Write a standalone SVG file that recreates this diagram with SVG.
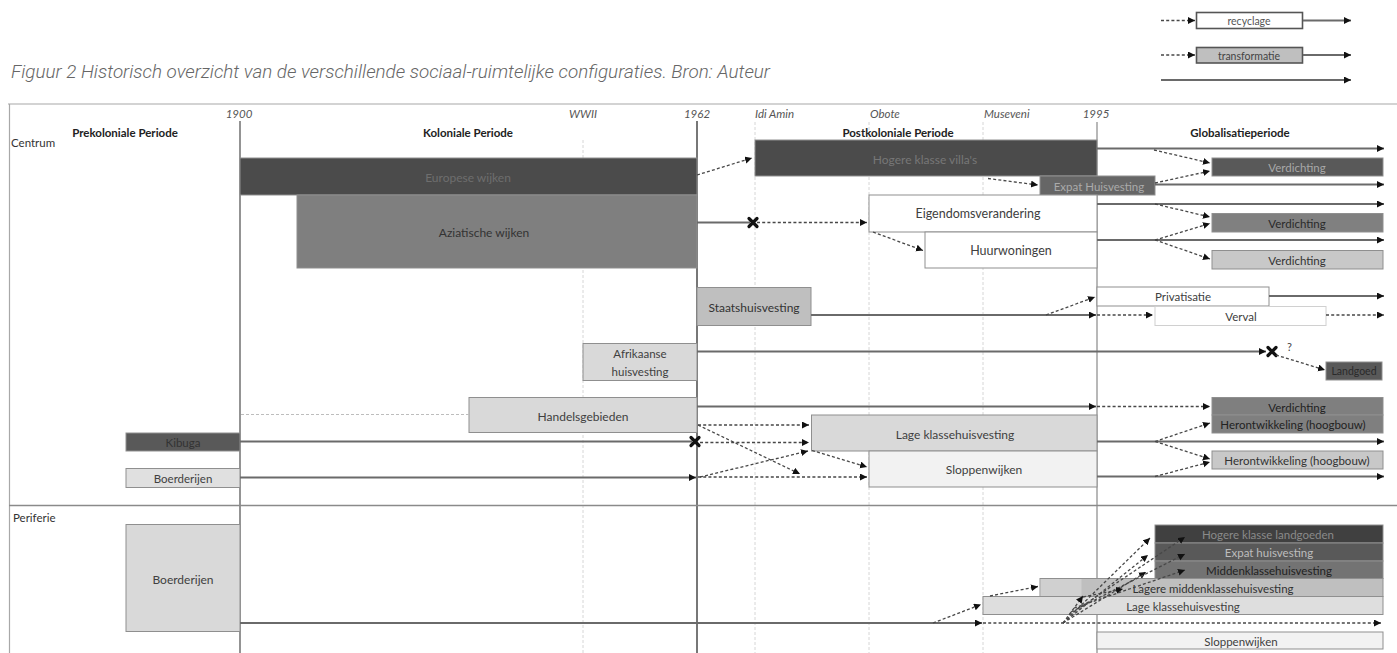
<svg xmlns="http://www.w3.org/2000/svg" width="1397" height="653" viewBox="0 0 1397 653">
<style>
  text { font-family: Lato, "Open Sans", "Liberation Sans", sans-serif; fill: #404040; }
  .lbl { font-size: 12px; text-anchor: middle; dominant-baseline: central; }
  .sm { font-size: 11.5px; text-anchor: middle; dominant-baseline: central; }
  .yr { font-size: 11.5px; font-style: italic; fill: #555; }
  .per { font-size: 11.5px; font-weight: bold; fill: #222; text-anchor: middle; }
  .zone { font-size: 11.5px; fill: #333; }
  .box { stroke: #8f8f8f; stroke-width: 1; }
  .frame { stroke: #a8a8a8; stroke-width: 1.2; fill: none; }
  .era { stroke: #666; stroke-width: 1.4; }
  .faint { stroke: #d6d6d6; stroke-width: 1; stroke-dasharray: 3 2; }
  .s { stroke: #6a6a6a; stroke-width: 1.8; fill: none; }
  .d { stroke: #474747; stroke-width: 1.3; stroke-dasharray: 3 2.2; fill: none; }
  .lt { stroke: #bdbdbd; stroke-width: 1; stroke-dasharray: 3 2; fill: none; }
  .a { marker-end: url(#arr); }
</style>
<defs>
  <marker id="arr" markerUnits="userSpaceOnUse" markerWidth="8" markerHeight="8" refX="7" refY="3.5" orient="auto">
    <path d="M0,0 L7,3.5 L0,7 z" fill="#111"/>
  </marker>
  <g id="xm"><path d="M-4,-4 L4,4 M4,-4 L-4,4" stroke="#111" stroke-width="3.2" stroke-linecap="round"/></g>
</defs>
<rect width="1397" height="653" fill="#fff"/>

<g id="legend">
  <line class="d a" x1="1161" y1="20.5" x2="1195" y2="20.5"/>
  <rect x="1196.5" y="12.5" width="106" height="16" fill="#fff" stroke="#555" stroke-width="1.6"/>
  <text x="1249" y="21" style="font-size:10.5px;text-anchor:middle;dominant-baseline:central;fill:#555">recyclage</text>
  <line class="s a" x1="1303" y1="20.5" x2="1351" y2="20.5"/>
  <line class="d a" x1="1161" y1="55" x2="1195" y2="55"/>
  <rect x="1196.5" y="47.5" width="106" height="15.5" fill="#bfbfbf" stroke="#555" stroke-width="1.6"/>
  <text x="1249" y="55.5" style="font-size:10.5px;text-anchor:middle;dominant-baseline:central;fill:#444">transformatie</text>
  <line class="s a" x1="1303" y1="55" x2="1351" y2="55"/>
  <line class="s a" x1="1161" y1="80" x2="1351" y2="80"/>
</g>

<text id="caption" x="11" y="78" style="font-family:Roboto,'Open Sans',sans-serif;font-style:italic;font-weight:300;font-size:17.5px;fill:#666" textLength="759" lengthAdjust="spacingAndGlyphs">Figuur 2 Historisch overzicht van de verschillende sociaal-ruimtelijke configuraties. Bron: Auteur</text>

<g id="grid">
  <line class="frame" x1="8" y1="104" x2="1397" y2="104"/>
  <line class="frame" x1="9.5" y1="104" x2="9.5" y2="653"/>
  <line class="faint" x1="583" y1="140" x2="583" y2="653"/>
  <line class="faint" x1="755" y1="122" x2="755" y2="653"/>
  <line class="faint" x1="869" y1="122" x2="869" y2="653"/>
  <line class="faint" x1="983" y1="122" x2="983" y2="653"/>
  <line class="era" x1="240" y1="121" x2="240" y2="653"/>
  <line class="era" x1="697" y1="121" x2="697" y2="653" style="stroke:#555;stroke-width:1.6"/>
  <line class="era" x1="1097" y1="122" x2="1097" y2="653" style="stroke:#9a9a9a"/>
  <line x1="9" y1="505.5" x2="1397" y2="505.5" stroke="#8a8a8a" stroke-width="1.4"/>
</g>

<g id="header">
  <text class="yr" x="239" y="118" text-anchor="middle">1900</text>
  <text class="yr" x="583" y="118" text-anchor="middle">WWII</text>
  <text class="yr" x="697" y="118" text-anchor="middle">1962</text>
  <text class="yr" x="755" y="118">Idi Amin</text>
  <text class="yr" x="870" y="118">Obote</text>
  <text class="yr" x="984" y="118">Museveni</text>
  <text class="yr" x="1096" y="118" text-anchor="middle">1995</text>
  <text class="per" x="125" y="137">Prekoloniale Periode</text>
  <text class="per" x="468" y="137">Koloniale Periode</text>
  <text class="per" x="898" y="137">Postkoloniale Periode</text>
  <text class="per" x="1240" y="137">Globalisatieperiode</text>
  <text class="zone" x="11" y="147">Centrum</text>
  <text class="zone" x="13" y="522">Periferie</text>
</g>

<g id="n-europese"><rect class="box" x="240" y="158" width="457" height="37" fill="#4b4b4b"/><text class="lbl" x="468" y="177" style="fill:#6e6e6e">Europese wijken</text></g>
<g id="n-aziatische"><rect class="box" x="297" y="195" width="400" height="73" fill="#7f7f7f"/><text class="lbl" x="484" y="232" style="fill:#333">Aziatische wijken</text></g>
<g id="n-villas"><rect class="box" x="755" y="140" width="342" height="36" fill="#4b4b4b"/><text class="lbl" x="925" y="159" style="fill:#777">Hogere klasse villa's</text></g>
<g id="n-expat"><rect class="box" x="1040" y="176" width="115" height="19" fill="#666"/><text class="sm" x="1099" y="186" style="fill:#aaa">Expat Huisvesting</text></g>
<g id="n-verd1"><rect class="box" x="1212" y="158" width="171" height="18" fill="#595959"/><text class="sm" x="1297" y="167.5" style="fill:#a8a8a8">Verdichting</text></g>
<g id="n-eigendom"><rect class="box" x="869" y="195" width="228" height="37" fill="#fff"/><text class="lbl" x="978" y="213" style="font-size:12.5px">Eigendomsverandering</text></g>
<g id="n-huur"><rect class="box" x="925" y="232" width="172" height="36" fill="#fff"/><text class="lbl" x="1011" y="250" style="font-size:12.5px">Huurwoningen</text></g>
<g id="n-verd2"><rect class="box" x="1212" y="213.5" width="171" height="18.5" fill="#808080"/><text class="sm" x="1297" y="223" style="fill:#2a2a2a">Verdichting</text></g>
<g id="n-verd3"><rect class="box" x="1212" y="250.5" width="171" height="18.5" fill="#c8c8c8"/><text class="sm" x="1297" y="260" style="fill:#333">Verdichting</text></g>
<g id="n-staats"><rect class="box" x="697" y="287.5" width="114" height="38" fill="#bfbfbf"/><text class="lbl" x="754" y="307" style="fill:#333">Staatshuisvesting</text></g>
<g id="n-privat"><rect class="box" x="1097" y="287" width="172" height="19" fill="#fff"/><text class="sm" x="1183" y="296.5">Privatisatie</text></g>
<g id="n-verval"><rect x="1155" y="306.5" width="171" height="19" fill="#fff" stroke="#d0d0d0"/><text class="sm" x="1241" y="316">Verval</text></g>
<g id="n-afrik"><rect class="box" x="583" y="343.5" width="114" height="37" fill="#d9d9d9"/><text class="sm" x="640" y="353.5">Afrikaanse</text><text class="sm" x="640" y="371">huisvesting</text></g>
<g id="n-landgoed"><rect class="box" x="1326" y="362" width="56" height="18" fill="#595959"/><text class="sm" x="1354" y="371" style="font-size:10.5px;fill:#2a2a2a">Landgoed</text></g>
<g id="n-handel"><rect class="box" x="469" y="397.5" width="228" height="35" fill="#d9d9d9"/><text class="lbl" x="583" y="416">Handelsgebieden</text></g>
<g id="n-kibuga"><rect class="box" x="126" y="433" width="114" height="18" fill="#595959"/><text class="sm" x="183" y="442.5" style="fill:#333">Kibuga</text></g>
<g id="n-boer-c"><rect class="box" x="126" y="468.5" width="114" height="19" fill="#e0e0e0"/><text class="sm" x="183" y="478.5">Boerderijen</text></g>
<g id="n-lage-c"><rect class="box" x="811.5" y="415" width="285.5" height="36" fill="#d9d9d9"/><text class="lbl" x="955" y="434">Lage klassehuisvesting</text></g>
<g id="n-slop-c"><rect class="box" x="869" y="451" width="228" height="36" fill="#f2f2f2"/><text class="lbl" x="984" y="469.5">Sloppenwijken</text></g>
<g id="n-verd4"><rect class="box" x="1212" y="397.5" width="171" height="17.5" fill="#7f7f7f"/><text class="sm" x="1297" y="407" style="fill:#222">Verdichting</text></g>
<g id="n-heront1"><rect class="box" x="1212" y="415" width="171" height="18" fill="#7f7f7f"/><text class="sm" x="1293" y="424.5" style="fill:#222">Herontwikkeling (hoogbouw)</text></g>
<g id="n-heront2"><rect class="box" x="1212" y="451" width="171" height="18" fill="#c8c8c8"/><text class="sm" x="1297" y="460.5" style="fill:#333">Herontwikkeling (hoogbouw)</text></g>

<g id="n-boer-p"><rect class="box" x="126" y="524.5" width="114" height="107" fill="#d9d9d9"/><text class="lbl" x="183" y="579">Boerderijen</text></g>
<g id="n-hogere-lg"><rect class="box" x="1155" y="525" width="228" height="18" fill="#404040"/><text class="sm" x="1268" y="534.5" style="fill:#8a8a8a">Hogere klasse landgoeden</text></g>
<g id="n-expat-p"><rect class="box" x="1155" y="543" width="228" height="18" fill="#595959"/><text class="sm" x="1269" y="552.5" style="fill:#bdbdbd">Expat huisvesting</text></g>
<g id="n-midden"><rect class="box" x="1155" y="561" width="228" height="17.5" fill="#737373"/><text class="sm" x="1269" y="570" style="fill:#222">Middenklassehuisvesting</text></g>
<g id="n-lagere-m"><rect class="box" x="1040" y="578.5" width="343" height="18" fill="#bfbfbf"/><rect x="1040.5" y="579" width="41" height="17" fill="#d0d0d0"/><text class="sm" x="1213" y="588.5" style="fill:#333">Lagere middenklassehuisvesting</text></g>
<g id="n-lage-p"><rect class="box" x="983" y="596.5" width="400" height="18" fill="#dedede"/><text class="sm" x="1183" y="606">Lage klassehuisvesting</text></g>
<g id="n-slop-p"><rect class="box" x="1097" y="632" width="286" height="17" fill="#f2f2f2"/><text class="sm" x="1241" y="641">Sloppenwijken</text></g>

<g id="connectors">
  <line class="d a" x1="697" y1="175" x2="752" y2="158"/>
  <line class="s a" x1="1097" y1="148.5" x2="1384" y2="148.5"/>
  <line class="d a" x1="1154" y1="150" x2="1210" y2="163"/>
  <line class="d a" x1="988" y1="178.5" x2="1038" y2="185"/>
  <line class="s a" x1="1155" y1="184.5" x2="1384" y2="184.5"/>
  <line class="d a" x1="1155" y1="183" x2="1210" y2="171"/>
  <line class="s" x1="697" y1="222.5" x2="750" y2="222.5"/>
  <use href="#xm" x="753" y="222.5"/>
  <line class="d a" x1="757" y1="222.5" x2="867" y2="222.5"/>
  <line class="s a" x1="1097" y1="204" x2="1384" y2="204"/>
  <line class="d a" x1="1155" y1="204" x2="1210" y2="217"/>
  <line class="d a" x1="873" y1="232" x2="923" y2="250.5"/>
  <line class="s a" x1="1097" y1="240" x2="1384" y2="240"/>
  <line class="d a" x1="1155" y1="240" x2="1210" y2="223.5"/>
  <line class="d a" x1="1155" y1="240" x2="1210" y2="259"/>
  <line class="s a" x1="811" y1="315" x2="1096" y2="315"/>
  <line class="d a" x1="1046" y1="315" x2="1095" y2="297"/>
  <line class="d a" x1="1097" y1="315" x2="1153" y2="315"/>
  <line class="s a" x1="1269" y1="296" x2="1384" y2="296"/>
  <line class="d a" x1="1326" y1="315" x2="1384" y2="315"/>
  <line class="s a" x1="697" y1="351.5" x2="1266" y2="351.5"/>
  <use href="#xm" x="1272" y="351.5"/>
  <text x="1287" y="351" style="font-size:11px;fill:#444">?</text>
  <line class="d a" x1="1276" y1="355" x2="1325" y2="370"/>
  <line class="lt" x1="241" y1="414.5" x2="469" y2="414.5"/>
  <line class="s a" x1="697" y1="406.5" x2="1096" y2="406.5"/>
  <line class="d a" x1="1097" y1="406.5" x2="1210" y2="406.5"/>
  <line class="s" x1="240" y1="441.5" x2="692" y2="441.5"/>
  <use href="#xm" x="695" y="441.5"/>
  <line class="d a" x1="698" y1="425" x2="809" y2="425"/>
  <line class="d a" x1="700" y1="442.5" x2="809" y2="442.5"/>
  <line class="d a" x1="698" y1="425" x2="800" y2="474"/>
  <line class="s a" x1="240" y1="477.5" x2="696" y2="477.5"/>
  <line class="d a" x1="698" y1="477" x2="867" y2="477"/>
  <line class="d a" x1="700" y1="477" x2="808" y2="451"/>
  <line class="d a" x1="812" y1="450.5" x2="867" y2="467"/>
  <line class="s a" x1="1097" y1="441.5" x2="1384" y2="441.5"/>
  <line class="d a" x1="1155" y1="441.5" x2="1210" y2="423"/>
  <line class="d a" x1="1155" y1="441.5" x2="1210" y2="459"/>
  <line class="s a" x1="1097" y1="476.5" x2="1384" y2="476.5"/>
  <line class="d a" x1="1155" y1="476.5" x2="1210" y2="462"/>
  <line class="s a" x1="240" y1="623" x2="982" y2="623"/>
  <line class="d a" x1="983" y1="623" x2="1381" y2="623"/>
  <line class="d a" x1="933" y1="623" x2="981" y2="604.5"/>
  <line class="d a" x1="990" y1="596" x2="1038" y2="586.5"/>
  <line class="d a" x1="1063" y1="623" x2="1150" y2="538"/>
  <line class="d a" x1="1063" y1="623" x2="1148" y2="555"/>
  <line class="d a" x1="1063" y1="623" x2="1146" y2="572"/>
  <line class="d a" x1="1063" y1="623" x2="1083" y2="596"/>
  <line class="d a" x1="1069" y1="615" x2="1185" y2="537"/>
  <line class="d a" x1="1071" y1="612" x2="1185" y2="554"/>
  <line class="d a" x1="1074" y1="608" x2="1185" y2="570"/>
  <line class="d a" x1="1083" y1="597" x2="1123" y2="589"/>
</g>
</svg>
